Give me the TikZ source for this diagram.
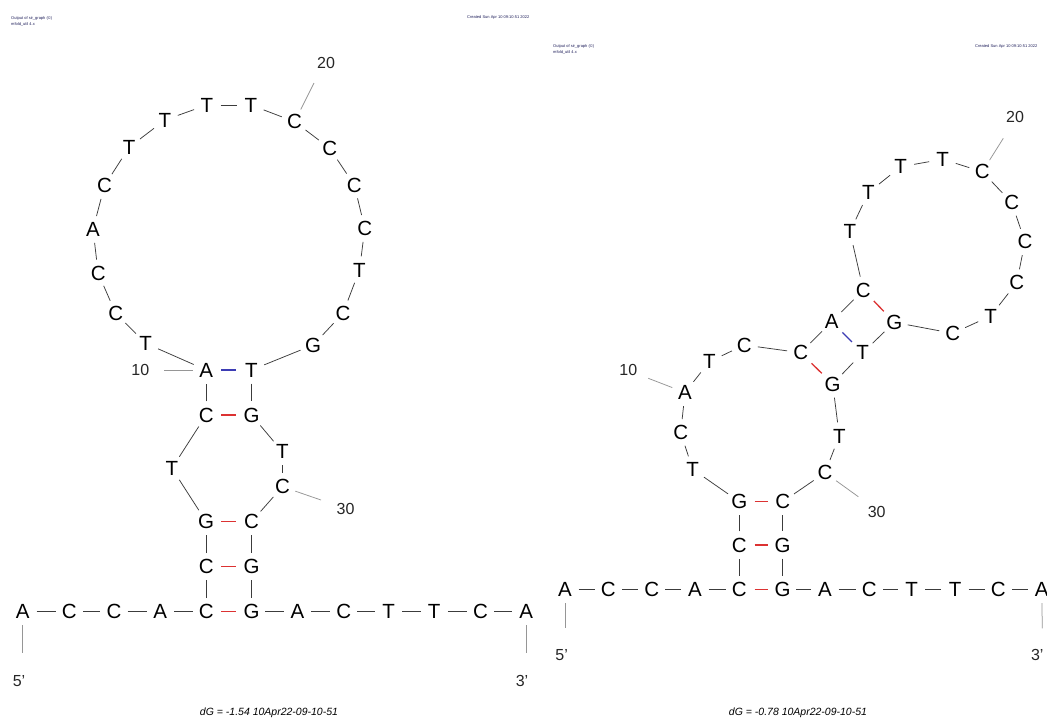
\documentclass[tikz,border=0pt]{standalone}
\usepackage{fontspec}
\setmainfont{Liberation Sans}
\definecolor{pairred}{RGB}{220,50,50}
\definecolor{pairblue}{RGB}{60,60,180}
\definecolor{bbgray}{RGB}{60,60,60}
\definecolor{tickgray}{RGB}{150,150,150}
\definecolor{hdrblue}{RGB}{30,30,90}
\begin{document}
\begin{tikzpicture}[x=1pt,y=-1pt,
  base/.style={circle, inner sep=0pt, minimum size=27pt, font=\fontsize{20.5}{20.5}\selectfont},
  bb/.style={draw=bbgray, line width=0.75pt},
  gcpair/.style={draw=pairred, line width=1.3pt, shorten <=1.5pt, shorten >=1.5pt},
  atpair/.style={draw=pairblue, line width=1.3pt, shorten <=1.5pt, shorten >=1.5pt},
  numlab/.style={inner sep=0pt, font=\fontsize{16}{16}\selectfont, text=black!85},
  tick/.style={draw=tickgray, line width=0.75pt},
  hdr/.style={anchor=west, inner sep=0pt, font=\fontsize{4}{4.5}\selectfont, text=hdrblue},
  dglab/.style={inner sep=0pt, font=\itshape\fontsize{10.5}{10.5}\selectfont}]
\useasboundingbox (0,0) rectangle (1047,718);
\fill[white] (0,0) rectangle (1047,718);

% ---------------- headers ----------------
\node[hdr] (h1) at (11,18.5) {Output of sir\_graph (\textcopyright)};
\node[hdr] (h2) at (11,24) {mfold\_util 4.x};
\node[hdr] (h3) at (467,17) {Created Sun Apr 10 09:10:51 2022};
\node[hdr] (h4) at (553,46) {Output of sir\_graph (\textcopyright)};
\node[hdr] (h5) at (553,52.5) {mfold\_util 4.x};
\node[hdr] (h6) at (975,46) {Created Sun Apr 10 09:10:51 2022};

% ---------------- left structure ----------------
\foreach \n/\x/\y/\b in {
 1/22.8/611.7/A, 2/69.4/611.7/C, 3/114/611.7/C, 4/160.3/611.7/A, 5/206.2/611.7/C,
 6/206.2/566.7/C, 7/206.2/521.7/G, 8/171.9/468.3/T, 9/206.2/415/C, 10/206.2/370/A,
 11/145.6/343.3/T, 12/115.7/313.3/C, 13/98.2/273.3/C, 14/93/229.3/A, 15/104.5/185.7/C,
 16/129.1/147.3/T, 17/164.9/120/T, 18/207/105/T, 19/250.8/105/T, 20/294.6/121.7/C,
 21/329.7/148.3/C, 22/354.3/185/C, 23/364.8/228.3/C, 24/359.5/270/T, 25/343/313.3/C,
 26/313.2/345/G, 27/251.5/370/T, 28/251.5/415/G, 29/282.4/451.7/T, 30/282.4/486.7/C,
 31/251.5/521.7/C, 32/251.5/566.7/G, 33/251.5/611.7/G, 34/297.4/611.7/A, 35/343.7/611.7/C,
 36/388.6/611.7/T, 37/434.2/611.7/T, 38/480.5/611.7/C, 39/526.1/611.7/A}
 { \node[base] (L\n) at (\x,\y) {\b}; }
\foreach \i [evaluate=\i as \j using int(\i+1)] in {1,...,38}
 { \draw[bb] (L\i) -- (L\j); }
\draw[gcpair] (L5) -- (L33);
\draw[gcpair] (L6) -- (L32);
\draw[gcpair] (L7) -- (L31);
\draw[gcpair] (L9) -- (L28);
\draw[atpair] (L10) -- (L27);

\node[numlab] (Ln10) at (140.3,370) {10};
\node[numlab] (Ln20) at (326,62.7) {20};
\node[numlab] (Ln30) at (345.5,509.3) {30};
\coordinate (Lt10) at (164,370);
\coordinate (Lt20) at (314,83);
\coordinate (Lt30) at (321,500);
\draw[tick] (L10) -- (Lt10);
\draw[tick] (L20) -- (Lt20);
\draw[tick] (L30) -- (Lt30);
\coordinate (Lt5) at (22.8,653.3);
\coordinate (Lt3) at (526.1,653.3);
\draw[tick] (L1) -- (Lt5);
\draw[tick] (L39) -- (Lt3);
\node[numlab] (L5p) at (19,681) {5'};
\node[numlab] (L3p) at (522,681) {3'};
\node[dglab] (Ldg) at (269,713) {dG = -1.54 10Apr22-09-10-51};

% ---------------- right structure ----------------
\foreach \n/\x/\y/\b in {
 1/565/589.3/A, 2/608.3/589.3/C, 3/651.7/589.3/C, 4/695/589.3/A, 5/739.3/589.3/C,
 6/739.3/545/C, 7/739.3/501.7/G, 8/692.7/469.3/T, 9/680.7/432.7/C, 10/685/392.5/A,
 11/709.3/361.7/T, 12/744.3/345/C, 13/800.7/352.7/C, 14/831.7/321.7/A, 15/863.3/290/C,
 16/850/231.7/T, 17/868.3/192.7/T, 18/900.7/166.7/T, 19/942.7/159.3/T, 20/982.3/171.7/C,
 21/1011.7/202.7/C, 22/1025/241.7/C, 23/1016.7/282.7/C, 24/990.7/316/T, 25/952.7/333.3/C,
 26/894.3/322.3/G, 27/862.7/352.7/T, 28/832.7/384/G, 29/839.3/436/T, 30/825/472.7/C,
 31/782.7/501.7/C, 32/782.7/545/G, 33/782.7/589.3/G, 34/825/589.3/A, 35/869.3/589.3/C,
 36/911.7/589.3/T, 37/955/589.3/T, 38/998.3/589.3/C, 39/1041.7/589.3/A}
 { \node[base] (R\n) at (\x,\y) {\b}; }
\foreach \i [evaluate=\i as \j using int(\i+1)] in {1,...,38}
 { \draw[bb] (R\i) -- (R\j); }
\draw[gcpair] (R5) -- (R33);
\draw[gcpair] (R6) -- (R32);
\draw[gcpair] (R7) -- (R31);
\draw[gcpair] (R13) -- (R28);
\draw[atpair] (R14) -- (R27);
\draw[gcpair] (R15) -- (R26);

\node[numlab] (Rn10) at (628.3,370) {10};
\node[numlab] (Rn20) at (1015,117.3) {20};
\node[numlab] (Rn30) at (876.7,511.7) {30};
\coordinate (Rt10) at (648.3,378.3);
\coordinate (Rt20) at (1003.3,138.3);
\coordinate (Rt30) at (858.3,496.7);
\draw[tick] (R10) -- (Rt10);
\draw[tick] (R20) -- (Rt20);
\draw[tick] (R30) -- (Rt30);
\coordinate (Rt5) at (565,628.3);
\coordinate (Rt3) at (1042.3,628.3);
\draw[tick] (R1) -- (Rt5);
\draw[tick] (R39) -- (Rt3);
\node[numlab] (R5p) at (561.7,655) {5'};
\node[numlab] (R3p) at (1037.3,655) {3'};
\node[dglab] (Rdg) at (798,713) {dG = -0.78 10Apr22-09-10-51};
\end{tikzpicture}
\end{document}
